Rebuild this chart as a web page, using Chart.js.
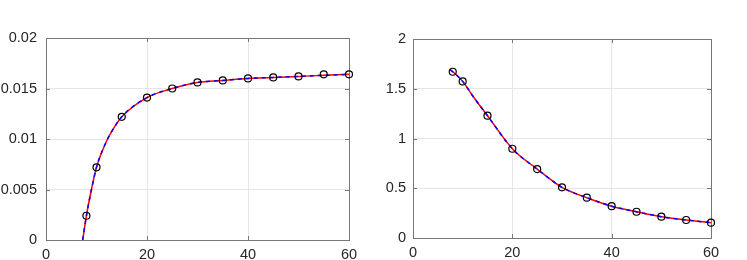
<!DOCTYPE html>
<html>
<head>
<meta charset="utf-8">
<script src="https://cdn.jsdelivr.net/npm/chart.js@4/dist/chart.umd.min.js"></script>
<style>
  html, body { margin: 0; padding: 0; background: #fff; overflow: hidden; }
  body { width: 747px; height: 260px; position: relative; }
  canvas { position: absolute; top: 0; }
  #left { left: 0; }
  #right { left: 370px; }
</style>
</head>
<body>
<canvas id="left" width="370" height="270" style="width:370px;height:270px"></canvas>
<canvas id="right" width="377" height="270" style="width:377px;height:270px"></canvas>
<script>
// tick labels
const xTicks = [0, 20, 40, 60];
const yTicksLeft = [0, 0.005, 0.01, 0.015, 0.02];
const yTicksRight = [0, 0.5, 1, 1.5, 2];

// left panel: markers and curve
const leftMarkX = [8, 10, 15, 20, 25, 30, 35, 40, 45, 50, 55, 60];
const leftMarkY = [0.0024, 0.0072, 0.0122, 0.0141, 0.0150, 0.0156, 0.0158, 0.0160, 0.0161, 0.0162, 0.0164, 0.0164];
const leftCurveX = [7.27, 8, 9, 10, 12, 13.2, 15, 20, 25, 30, 35, 40, 45, 50, 55, 60];
const leftCurveY = [0, 0.0024, 0.0050, 0.0072, 0.0098, 0.0109, 0.0122, 0.0141, 0.0150, 0.0156, 0.0158, 0.0160, 0.0161, 0.0162, 0.0163, 0.0164];

// right panel: markers and curve
const rightMarkX = [8, 10, 15, 20, 25, 30, 35, 40, 45, 50, 55, 60];
const rightMarkY = [1.671, 1.574, 1.229, 0.897, 0.693, 0.509, 0.405, 0.320, 0.264, 0.214, 0.181, 0.154];
const rightCurveX = [7.5, 8, 10, 12, 15, 20, 25, 30, 35, 40, 45, 50, 55, 60];
const rightCurveY = [1.69, 1.671, 1.574, 1.43, 1.229, 0.897, 0.693, 0.509, 0.405, 0.320, 0.264, 0.214, 0.181, 0.154];

const pts = (xs, ys) => xs.map((x, i) => ({ x: x, y: ys[i] }));

// box round the plot area with small inward ticks
const framePlugin = {
  id: 'frame',
  beforeDatasetsDraw(chart) {
    const { ctx, chartArea: a, scales } = chart;
    ctx.save();
    ctx.strokeStyle = '#777';
    ctx.lineWidth = 1;
    ctx.strokeRect(Math.round(a.left) + 0.5, Math.round(a.top) + 0.5,
      Math.round(a.right - a.left), Math.round(a.bottom - a.top));
    const len = 4;
    ctx.beginPath();
    scales.x.ticks.forEach(t => {
      const px = Math.round(scales.x.getPixelForValue(t.value)) + 0.5;
      ctx.moveTo(px, a.bottom); ctx.lineTo(px, a.bottom - len);
      ctx.moveTo(px, a.top); ctx.lineTo(px, a.top + len);
    });
    scales.y.ticks.forEach(t => {
      const py = Math.round(scales.y.getPixelForValue(t.value)) + 0.5;
      ctx.moveTo(a.left, py); ctx.lineTo(a.left + len, py);
      ctx.moveTo(a.right, py); ctx.lineTo(a.right - len, py);
    });
    ctx.stroke();
    ctx.restore();
  }
};

function makeChart(id, curve, marks, yTicks, yMax, opt) {
  return new Chart(document.getElementById(id), {
    type: 'scatter',
    data: {
      datasets: [
        { data: curve, showLine: true, borderColor: '#ff0000', borderWidth: 1.5, order: 2,
          pointRadius: 0, cubicInterpolationMode: 'monotone' },
        { data: curve, showLine: true, borderColor: '#0000ff', borderWidth: 1.5, order: 1,
          borderDash: [4, 4], pointRadius: 0, cubicInterpolationMode: 'monotone' },
        { data: marks, showLine: false, pointStyle: 'circle', pointRadius: 3.5, order: 0,
          borderColor: '#000', borderWidth: 1.2, backgroundColor: 'rgba(0,0,0,0)', clip: false }
      ]
    },
    options: {
      responsive: false,
      animation: false,
      layout: { padding: { top: opt.top, right: opt.right, left: 0, bottom: 0 } },
      plugins: { legend: { display: false }, tooltip: { enabled: false } },
      scales: {
        x: {
          type: 'linear', min: 0, max: 60,
          afterBuildTicks: s => { s.ticks = xTicks.map(v => ({ value: v })); },
          afterFit: s => { s.height = opt.xh; },
          grid: { color: '#e6e6e6', drawTicks: false },
          border: { display: false },
          ticks: { color: '#262626', padding: 6, maxRotation: 0,
            font: { family: '"Liberation Sans", Arial, sans-serif', size: 14.5 } }
        },
        y: {
          type: 'linear', min: 0, max: yMax,
          afterBuildTicks: s => { s.ticks = yTicks.map(v => ({ value: v })); },
          afterFit: s => { s.width = opt.yw; },
          grid: { color: '#e6e6e6', drawTicks: false },
          border: { display: false },
          ticks: { color: '#262626', padding: opt.ypad,
            font: { family: '"Liberation Sans", Arial, sans-serif', size: 14.5 },
            callback: v => String(+Number(v).toFixed(4)) }
        }
      }
    },
    plugins: [framePlugin]
  });
}

makeChart('left', pts(leftCurveX, leftCurveY), pts(leftMarkX, leftMarkY), yTicksLeft, 0.02,
  { top: 38, right: 21, xh: 30, yw: 46, ypad: 9 });
makeChart('right', pts(rightCurveX, rightCurveY), pts(rightMarkX, rightMarkY), yTicksRight, 2,
  { top: 39, right: 36, xh: 32, yw: 43, ypad: 7 });
</script>
</body>
</html>
